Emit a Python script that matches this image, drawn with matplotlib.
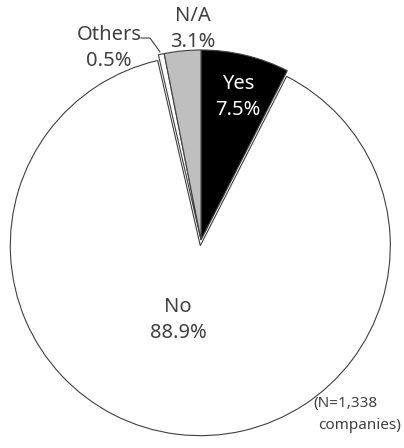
import matplotlib
matplotlib.use("Agg")
import matplotlib.pyplot as plt

plt.rcParams['font.family'] = ['Noto Sans', 'DejaVu Sans']

# Data
labels = ["Yes", "No", "Others", "N/A"]
shares = [7.5, 88.9, 0.5, 3.1]
colors = ["#000000", "#ffffff", "#ffffff", "#bfbfbf"]
explode = [0, 0.03, 0, 0]

W, H = 404, 448
CX, CY, R = 201, 240, 190  # pie centre / radius in pixels

fig = plt.figure(figsize=(W / 100, H / 100), dpi=100)
ax = fig.add_axes([0, 0, 1, 1])
ax.pie(shares, colors=colors, explode=explode, startangle=90,
       counterclock=False, radius=1,
       wedgeprops=dict(edgecolor="#404040", linewidth=0.8))
ax.set_xlim(-CX / R, (W - CX) / R)
ax.set_ylim((CY - H) / R, CY / R)
ax.set_aspect("auto")
ax.axis("off")

txt = "#404040"


def put(x, y, s, color=txt):
    fig.text(x / W, 1 - y / H, s, ha="center", va="center",
             fontsize=14.5, color=color, linespacing=1.35,
             fontweight="light")


put(238, 97, f"{labels[0]}\n{shares[0]}%", color="white")
put(178, 320, f"{labels[1]}\n{shares[1]}%")
put(193, 29, f"{labels[3]}\n{shares[3]}%")
put(109, 48, f"{labels[2]}\n{shares[2]}%")

# leader line for Others
fig.add_artist(plt.Line2D([141 / W, 150 / W, 160 / W],
                          [1 - 38 / H, 1 - 38 / H, 1 - 52 / H],
                          color="#404040", linewidth=0.8))

fig.text(313 / W, 1 - 403 / H, "(N=1,338", ha="left", va="center",
         fontsize=11, color=txt, fontweight="light")
fig.text(401 / W, 1 - 425 / H, "companies)", ha="right", va="center",
         fontsize=11, color=txt, fontweight="light")

fig.savefig("out.png", dpi=100)
